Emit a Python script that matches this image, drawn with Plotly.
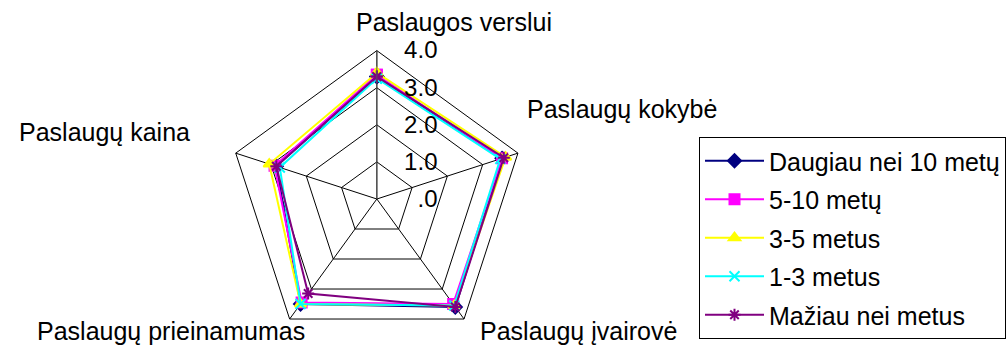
import plotly.graph_objects as go

# categories around the pentagon (clockwise from top)
categories = ["Paslaugos verslui", "Paslaugų kokybė", "Paslaugų įvairovė",
              "Paslaugų prieinamumas", "Paslaugų kaina"]

# average scores per group
daugiau_10 = [3.30, 3.55, 3.60, 3.50, 2.85]
metu_5_10 = [3.35, 3.55, 3.50, 3.45, 2.90]
metus_3_5 = [3.40, 3.65, 3.55, 3.50, 3.05]
metus_1_3 = [3.25, 3.50, 3.55, 3.50, 2.75]
maziau_1 = [3.30, 3.60, 3.60, 3.15, 2.85]

series_names = ["Daugiau nei 10 metų", "5-10 metų", "3-5 metus", "1-3 metus", "Mažiau nei metus"]
series_values = [daugiau_10, metu_5_10, metus_3_5, metus_1_3, maziau_1]

radial_ticks = [0, 1, 2, 3, 4]
radial_labels = ["\u2007.0", "1.0", "2.0", "3.0", "4.0"]

colors = ["#000080", "#FF00FF", "#FFFF00", "#00FFFF", "#800080"]
symbols = ["diamond", "square", "triangle-up", "x-thin", "asterisk"]

FONT = "Liberation Sans, Arial, sans-serif"

fig = go.Figure()
for i, (name, vals) in enumerate(zip(series_names, series_values)):
    fig.add_trace(go.Scatterpolar(
        r=vals + vals[:1],
        theta=categories + categories[:1],
        mode="lines+markers",
        name=name,
        legendgroup=name,
        line=dict(color=colors[i], width=2),
        marker=dict(symbol=symbols[i], size=10, color=colors[i],
                    line=dict(color=colors[i], width=2)),
    ))

fig.update_layout(
    width=1006, height=350,
    margin=dict(l=0, r=0, t=0, b=0),
    paper_bgcolor="white",
    font=dict(family=FONT, size=25, color="black"),
    polar=dict(
        domain=dict(x=[231 / 1006, 531 / 1006], y=[1 - 349 / 350, 1 - 49 / 350]),
        gridshape="linear",
        bgcolor="white",
        angularaxis=dict(direction="clockwise", rotation=90,
                         showline=True, linecolor="black", linewidth=1,
                         gridcolor="black", gridwidth=1,
                         showticklabels=False, ticks=""),
        # transparent ticks push the labels off the spoke
        radialaxis=dict(range=[0, 4], angle=90, tickangle=90,
                        tickvals=radial_ticks, ticktext=radial_labels,
                        showline=True, linecolor="#555", linewidth=1,
                        gridcolor="black", gridwidth=1,
                        ticks="outside", ticklen=22, tickcolor="rgba(0,0,0,0)",
                        tickfont=dict(size=24)),
    ),
    legend=dict(x=707 / 1006, y=1 - 137 / 350, xanchor="left", yanchor="top",
                bordercolor="black", borderwidth=1, bgcolor="white",
                font=dict(size=25), tracegroupgap=3, traceorder="grouped",
                itemwidth=59),
)

label_pos = [
    (358, 22),
    (531, 109),
    (483, 331),
    (35, 331),
    (17, 132),
]
for cat, (px_, py_) in zip(categories, label_pos):
    fig.add_annotation(x=px_ / 1006, y=1 - py_ / 350, xref="paper", yref="paper",
                       text=cat, showarrow=False, xanchor="left", yanchor="middle",
                       font=dict(size=25))

fig.write_html("out.html", config={"displayModeBar": False},
               post_script="document.body.style.margin='0px';")
